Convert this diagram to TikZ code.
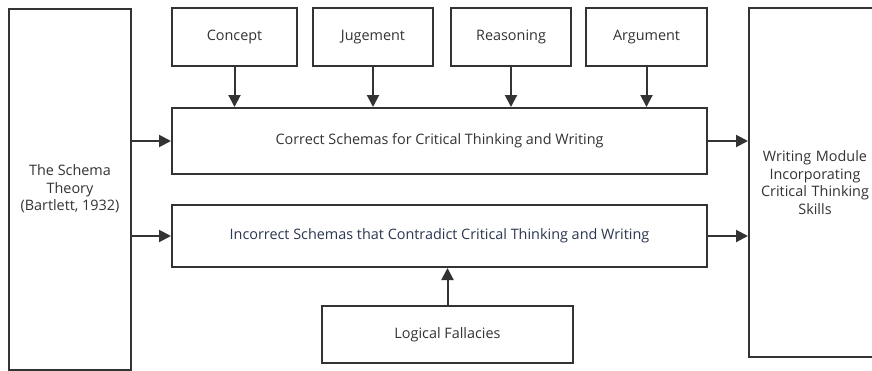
\documentclass[tikz,border=0pt]{standalone}
\usepackage{fontspec}
\setmainfont{Open Sans}
\usetikzlibrary{arrows.meta}
\definecolor{ln}{HTML}{333333}
\definecolor{tx}{HTML}{333333}
\definecolor{tb}{HTML}{2B3850}
\begin{document}
\begin{tikzpicture}[x=1pt,y=-1pt,
  box/.style={draw=ln,line width=2pt,fill=white,inner sep=0pt,text=tx,font=\fontsize{14.4}{17.5}\selectfont,align=center},
  arr/.style={draw=ln,line width=2pt,-{Triangle[length=12pt,width=12pt]}}]
\useasboundingbox (0,0) rectangle (872,370);
\node[box,minimum width=122pt,minimum height=361pt] (theory) at (70,189) {The Schema\\Theory\\(Bartlett, 1932)};
\node[box,minimum width=125pt,minimum height=58pt] (concept) at (234.5,37) {Concept};
\node[box,minimum width=120pt,minimum height=58pt] (jug) at (373,37) {Jugement};
\node[box,minimum width=120pt,minimum height=58pt] (reas) at (511,37) {Reasoning};
\node[box,minimum width=121pt,minimum height=58pt] (argu) at (646.5,37) {Argument};
\node[box,minimum width=535pt,minimum height=66pt] (correct) at (439.5,141) {Correct Schemas for Critical Thinking and Writing};
\node[box,minimum width=535pt,minimum height=62pt,text=tb] (incorrect) at (439.5,236) {Incorrect Schemas that Contradict Critical Thinking and Writing};
\node[box,minimum width=251pt,minimum height=57pt] (fall) at (447.5,334.5) {Logical Fallacies};
\node[box,minimum width=132pt,minimum height=349pt,text width=120pt] (module) at (815,182.5) {Writing Module\\Incorporating\\Critical Thinking\\Skills};
\draw[arr] (concept.south) -- (correct.north -| concept.south);
\draw[arr] (jug.south) -- (correct.north -| jug.south);
\draw[arr] (reas.south) -- (correct.north -| reas.south);
\draw[arr] (argu.south) -- (correct.north -| argu.south);
\draw[arr] (theory.east |- correct.west) -- (correct.west);
\draw[arr] (theory.east |- incorrect.west) -- (incorrect.west);
\draw[arr] (correct.east) -- (module.west |- correct.east);
\draw[arr] (incorrect.east) -- (module.west |- incorrect.east);
\draw[arr] (fall.north) -- (incorrect.south -| fall.north);
\end{tikzpicture}
\end{document}
